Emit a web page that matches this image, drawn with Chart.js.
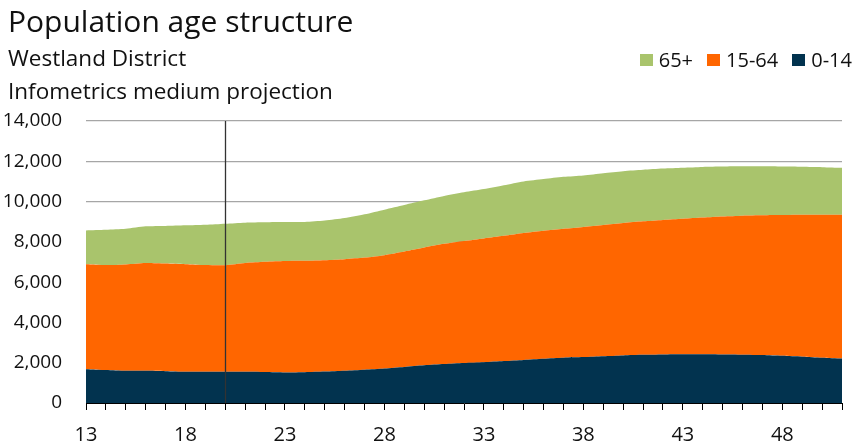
<!DOCTYPE html>
<html>
<head>
<meta charset="utf-8">
<script src="https://cdn.jsdelivr.net/npm/chart.js@4/dist/chart.umd.min.js"></script>
<style>
  html, body { margin: 0; padding: 0; background: #fff; }
  #wrap { position: relative; width: 855px; height: 448px; overflow: hidden; font-family: "Open Sans", "Noto Sans", sans-serif; color: #111; }
  #c { position: absolute; left: 0; top: 0; }
  .t { position: absolute; left: 8px; white-space: nowrap; line-height: 1.362; }
  #title { font-size: 30px; top: 1px; }
  #sub1 { font-size: 22.5px; top: 43px; }
  #sub2 { font-size: 22.5px; top: 76px; }
  #legend { position: absolute; right: 3px; top: 46px; display: flex; align-items: center; font-size: 20px; line-height: 1.362; }
  #legend .item { display: flex; align-items: center; margin-left: 14px; }
  #legend .sw { width: 13px; height: 12px; margin-right: 6px; }
</style>
</head>
<body>
<div id="wrap">
  <canvas id="c" width="855" height="448"></canvas>
  <div class="t" id="title">Population age structure</div>
  <div class="t" id="sub1">Westland District</div>
  <div class="t" id="sub2">Infometrics medium projection</div>
  <div id="legend"></div>
</div>
<script>
// Years 2013-2051 shown as two-digit labels
const years = ['13','14','15','16','17','18','19','20','21','22','23','24','25','26','27','28','29','30','31','32','33','34','35','36','37','38','39','40','41','42','43','44','45','46','47','48','49','50','51'];
const age0to14 = [1680,1640,1600,1600,1580,1550,1550,1550,1550,1540,1520,1530,1560,1600,1650,1710,1790,1870,1930,1980,2020,2080,2140,2200,2250,2280,2320,2360,2390,2410,2420,2420,2410,2400,2380,2340,2300,2250,2210];
const age15to64 = [5210,5210,5280,5350,5340,5340,5300,5290,5400,5470,5530,5530,5530,5540,5570,5630,5730,5850,5970,6060,6150,6220,6300,6350,6400,6460,6520,6580,6630,6680,6730,6790,6850,6900,6940,6990,7040,7100,7140];
const age65plus = [1680,1750,1770,1820,1870,1930,2000,2060,2000,1960,1930,1930,1970,2040,2150,2260,2310,2340,2380,2420,2450,2510,2560,2570,2580,2560,2570,2570,2560,2550,2530,2510,2480,2450,2430,2410,2390,2360,2330];
const yTicks = [0,2000,4000,6000,8000,10000,12000,14000];
const seriesNames = ['0-14','15-64','65+'];
const seriesColors = ['#02334F','#FF6600','#A9C46C'];
const markerYear = '20';

const seriesValues = [age0to14, age15to64, age65plus];
const datasets = seriesNames.map((n, i) => ({
  label: n,
  data: seriesValues[i],
  backgroundColor: seriesColors[i],
  borderColor: seriesColors[i],
  borderWidth: 0,
  pointRadius: 0,
  pointHoverRadius: 0,
  tension: 0.25,
  fill: i === 0 ? 'origin' : '-1'
}));

// legend (reverse order, as in reference)
const lg = document.getElementById('legend');
for (let i = seriesNames.length - 1; i >= 0; i--) {
  const it = document.createElement('div');
  it.className = 'item';
  const sw = document.createElement('span');
  sw.className = 'sw';
  sw.style.background = seriesColors[i];
  const tx = document.createElement('span');
  tx.textContent = seriesNames[i];
  it.appendChild(sw); it.appendChild(tx);
  lg.appendChild(it);
}

const markerLine = {
  id: 'markerLine',
  afterDatasetsDraw(chart) {
    const xs = chart.scales.x, a = chart.chartArea;
    const x = Math.round(xs.getPixelForValue(years.indexOf(markerYear))) + 0.5;
    const ctx = chart.ctx;
    ctx.save();
    ctx.strokeStyle = '#333';
    ctx.lineWidth = 1.3;
    ctx.beginPath();
    ctx.moveTo(x, a.top);
    ctx.lineTo(x, a.bottom);
    ctx.stroke();
    ctx.restore();
  }
};

const fontFamily = '"Open Sans", "Noto Sans", sans-serif';
new Chart(document.getElementById('c'), {
  type: 'line',
  data: { labels: years, datasets },
  options: {
    responsive: false,
    animation: false,
    events: [],
    layout: { padding: { top: 121, right: 12, left: 0, bottom: 0 } },
    plugins: { legend: { display: false }, tooltip: { enabled: false } },
    scales: {
      x: {
        offset: false,
        afterFit(s) { s.height = 45; },
        border: { display: true, color: '#000', width: 1 },
        grid: { drawOnChartArea: false, drawTicks: true, tickLength: 7, color: '#000', lineWidth: 1 },
        ticks: {
          autoSkip: false, maxRotation: 0, minRotation: 0, padding: 13,
          color: '#111', font: { family: fontFamily, size: 20 },
          callback: (v, i) => (i % 5 === 0 ? years[i] : '')
        }
      },
      y: {
        stacked: true,
        min: 0, max: 14000,
        afterFit(s) { s.width = 86; },
        afterBuildTicks(s) { s.ticks = yTicks.map(v => ({ value: v })); },
        border: { display: false },
        grid: { drawTicks: false, color: '#a6a6a6', lineWidth: 1.3 },
        ticks: {
          padding: 24, color: '#111', font: { family: fontFamily, size: 19 },
          callback: v => v.toLocaleString('en-US')
        }
      }
    }
  },
  plugins: [markerLine]
});
</script>
</body>
</html>
